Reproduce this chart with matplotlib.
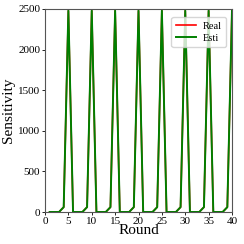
import numpy as np
import matplotlib
matplotlib.use("Agg")
import matplotlib.pyplot as plt

plt.rcParams['font.family'] = ['Liberation Serif', 'DejaVu Serif']

# Rounds and sensitivity values (spike every 5th round)
rounds = list(range(1, 41))
real = [0, 0, 0, 60, 2480] * 8
esti = [0, 0, 0, 60, 2480] * 8

fig = plt.figure(figsize=(2.44, 2.44), dpi=100)
ax = fig.add_axes([45 / 244, 32 / 244, 187 / 244, 203 / 244])

ax.plot(rounds, real, color='red', linewidth=1.2, label='Real')
ax.plot(rounds, esti, color='green', linewidth=1.4, label='Esti')

ax.set_xlim(0, 40)
ax.set_ylim(0, 2500)
ax.set_xticks(np.arange(0, 41, 5))
ax.set_yticks(np.arange(0, 2501, 500))
ax.tick_params(labelsize=8, length=2, width=0.6, pad=1.5)
for s in ax.spines.values():
    s.set_linewidth(0.8)
    s.set_color('#555555')

ax.set_xlabel('Round', fontsize=11, labelpad=-1)
ax.set_ylabel('Sensitivity', fontsize=11, labelpad=2)
ax.legend(loc='upper right', fontsize=7.5, handlelength=2.0, borderpad=0.4,
          labelspacing=0.3, handletextpad=0.6, bbox_to_anchor=(0.995, 0.985))

fig.savefig('out.png', dpi=100)
